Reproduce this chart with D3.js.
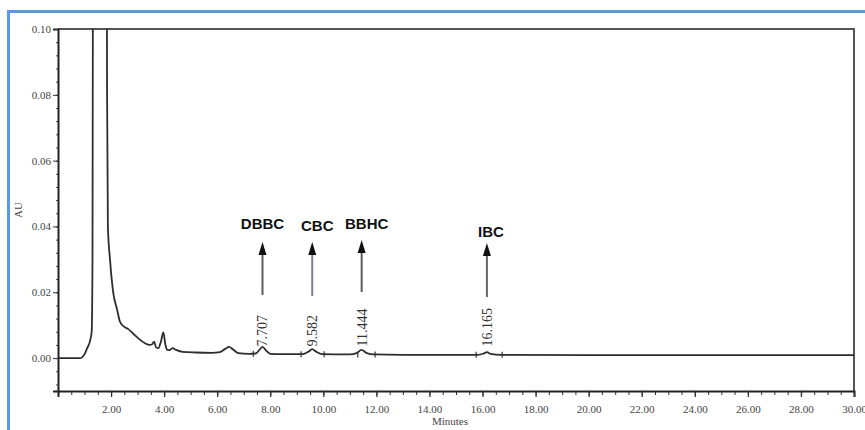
<!DOCTYPE html>
<html lang="en">
<head>
    <meta charset="UTF-8">
    <script src="https://cdn.jsdelivr.net/npm/d3@7"></script>
    <title>Chromatogram</title>
    <style>
        body { margin: 0; background: #fff; }
        svg { display: block; }
        .tick text { font-family: "Liberation Serif", serif; font-size: 11px; fill: #444; }
    </style>
</head>
<body>
<div id="chart"></div>
<script>
    // trace: [minutes, AU]
    const traceTimes = [0, 0.85, 1.0, 1.1, 1.2, 1.27, 1.3, 1.33, 1.55, 1.82, 1.85, 1.88, 1.96, 2.08, 2.22, 2.34, 2.5, 2.65, 2.84,
        3.03, 3.28, 3.45, 3.55, 3.62, 3.7, 3.78, 3.88, 3.97, 4.05, 4.12, 4.2, 4.32, 4.45, 4.7, 5.2, 5.8, 6.1, 6.3, 6.45,
        6.6, 6.8, 7.2, 7.45, 7.6, 7.71, 7.85, 8.0, 8.5, 9.2, 9.45, 9.58, 9.72, 9.95, 11.0, 11.25, 11.44, 11.62, 11.9,
        13.0, 15.8, 16.05, 16.165, 16.3, 16.7, 20.0, 25.0, 30.0];
    const traceValues = [0, 0, 0.0012, 0.003, 0.005, 0.008, 0.03, 0.2, 0.6, 0.2, 0.08, 0.04, 0.03, 0.02, 0.015, 0.011, 0.0095, 0.0088, 0.0074,
        0.006, 0.0045, 0.004, 0.0042, 0.005, 0.0032, 0.003, 0.005, 0.0078, 0.004, 0.0025, 0.0024, 0.003, 0.0025, 0.0019, 0.0017, 0.0016, 0.0018, 0.0028, 0.0034,
        0.0026, 0.0015, 0.0013, 0.0014, 0.0026, 0.0034, 0.0022, 0.0013, 0.0012, 0.0012, 0.002, 0.0027, 0.002, 0.0012, 0.0011, 0.0015, 0.0025, 0.0016, 0.0011,
        0.001, 0.001, 0.0014, 0.0018, 0.0013, 0.001, 0.0009, 0.0009, 0.0009];

    // labelled peaks
    const peakNames = ["DBBC", "CBC", "BBHC", "IBC"];
    const peakTimes = [7.707, 9.582, 11.444, 16.165];
    const peakLabels = ["7.707", "9.582", "11.444", "16.165"];
    const arrowColors = ["#5b5e4c", "#7c7c98", "#5c5c5c", "#666666"];
    // integration start/end marks on the baseline
    const markTimes = [7.36, 9.16, 10.03, 11.3, 11.95, 15.76, 16.74];
    const markValues = [0.0013, 0.0012, 0.0012, 0.0011, 0.0011, 0.001, 0.001];

    const xTicks = [2, 4, 6, 8, 10, 12, 14, 16, 18, 20, 22, 24, 26, 28, 30];
    const yTicks = [0, 0.02, 0.04, 0.06, 0.08, 0.10];

    const width = 865, height = 430;
    const plotLeft = 58, plotRight = 854, plotTop = 29, plotBottom = 391;

    const svg = d3.select("#chart").append("svg")
        .attr("width", width)
        .attr("height", height);

    // blue frame of the scan
    svg.append("path")
        .attr("d", `M8.5,430 V11.5 H865`)
        .attr("fill", "none")
        .attr("stroke", "#5b9bd5")
        .attr("stroke-width", 3);

    const x = d3.scaleLinear().domain([0, 30]).range([plotLeft, plotRight]);
    const y = d3.scaleLinear().domain([-0.01, 0.10]).range([plotBottom, plotTop]);

    // top and right border
    svg.append("path")
        .attr("d", `M${plotLeft},${plotTop} H${plotRight} V${plotBottom}`)
        .attr("fill", "none")
        .attr("stroke", "#555")
        .attr("stroke-width", 2);

    // x axis: minor every 0.5, labels every 2
    const xMinor = d3.range(0.5, 30.01, 0.5);
    svg.append("g")
        .attr("transform", `translate(0,${plotBottom})`)
        .call(d3.axisBottom(x).tickValues(xMinor).tickSize(4).tickFormat(""))
        .call(g => g.selectAll("line").attr("stroke", "#333"));
    svg.append("g")
        .attr("transform", `translate(0,${plotBottom})`)
        .call(d3.axisBottom(x).tickValues(xTicks).tickSize(6).tickPadding(8).tickFormat(d3.format(".2f")))
        .call(g => g.select(".domain").attr("stroke", "#222").attr("stroke-width", 2))
        .call(g => g.selectAll("line").attr("stroke", "#333").attr("stroke-width", 1.3));

    // y axis: minor every 0.004
    const yMinor = d3.range(-0.008, 0.1001, 0.004);
    svg.append("g")
        .attr("transform", `translate(${plotLeft},0)`)
        .call(d3.axisLeft(y).tickValues(yMinor).tickSize(2).tickFormat(""))
        .call(g => g.select(".domain").remove())
        .call(g => g.selectAll("line").attr("stroke", "#444"));
    svg.append("g")
        .attr("transform", `translate(${plotLeft},0)`)
        .call(d3.axisLeft(y).tickValues(yTicks).tickSize(5).tickPadding(2).tickFormat(d3.format(".2f")))
        .call(g => g.select(".domain").attr("stroke", "#222").attr("stroke-width", 2))
        .call(g => g.selectAll("line").attr("stroke", "#333"));

    svg.append("text")
        .attr("transform", `translate(22,${y(0.045)}) rotate(-90)`)
        .attr("text-anchor", "middle")
        .attr("font-family", "Liberation Serif, serif")
        .attr("font-size", 11)
        .attr("fill", "#444")
        .text("AU");

    svg.append("text")
        .attr("x", 450).attr("y", 425)
        .attr("text-anchor", "middle")
        .attr("font-family", "Liberation Serif, serif")
        .attr("font-size", 11)
        .attr("fill", "#444")
        .text("Minutes");

    // trace, clipped to the plot area
    svg.append("clipPath").attr("id", "plot-clip")
        .append("rect")
        .attr("x", plotLeft).attr("y", plotTop)
        .attr("width", plotRight - plotLeft).attr("height", plotBottom - plotTop);

    const trace = traceTimes.map((t, i) => [t, traceValues[i]]);
    const line = d3.line()
        .x(d => x(d[0]))
        .y(d => y(d[1]))
        .curve(d3.curveMonotoneX);

    svg.append("path")
        .datum(trace)
        .attr("clip-path", "url(#plot-clip)")
        .attr("fill", "none")
        .attr("stroke", "#2e2e2e")
        .attr("stroke-width", 1.8)
        .attr("d", line);

    // baseline event marks
    svg.append("g").selectAll("line")
        .data(markTimes)
        .join("line")
        .attr("x1", d => x(d)).attr("x2", d => x(d))
        .attr("y1", (d, i) => y(markValues[i]) - 3)
        .attr("y2", (d, i) => y(markValues[i]) + 3)
        .attr("stroke", "#333")
        .attr("stroke-width", 1.2);

    // retention time labels
    svg.append("g").selectAll("text")
        .data(peakTimes)
        .join("text")
        .attr("transform", d => `translate(${x(d) + 5},${y(0.0032) - 1}) rotate(-90)`)
        .attr("font-family", "Liberation Serif, serif")
        .attr("font-size", 14)
        .attr("fill", "#333")
        .text((d, i) => peakLabels[i]);

    // arrows and compound names
    const arrowTop = [242, 242, 240, 243];
    const arrowBottom = [295, 296, 292, 297];
    const nameY = [229, 231, 229, 237];
    const nameDx = [0, 5, 5, 4];

    const arrows = svg.append("g");
    peakTimes.forEach((t, i) => {
        const cx = x(t);
        arrows.append("line")
            .attr("x1", cx).attr("x2", cx)
            .attr("y1", arrowTop[i] + 8).attr("y2", arrowBottom[i])
            .attr("stroke", arrowColors[i])
            .attr("stroke-width", 2);
        arrows.append("path")
            .attr("d", `M${cx},${arrowTop[i]} L${cx - 4},${arrowTop[i] + 13} L${cx + 4},${arrowTop[i] + 13} Z`)
            .attr("fill", "#111");
        arrows.append("text")
            .attr("x", cx + nameDx[i]).attr("y", nameY[i])
            .attr("text-anchor", "middle")
            .attr("font-family", "Liberation Sans, Arial, sans-serif")
            .attr("font-weight", "bold")
            .attr("font-size", 15)
            .attr("fill", "#111")
            .text(peakNames[i]);
    });
</script>
</body>
</html>
